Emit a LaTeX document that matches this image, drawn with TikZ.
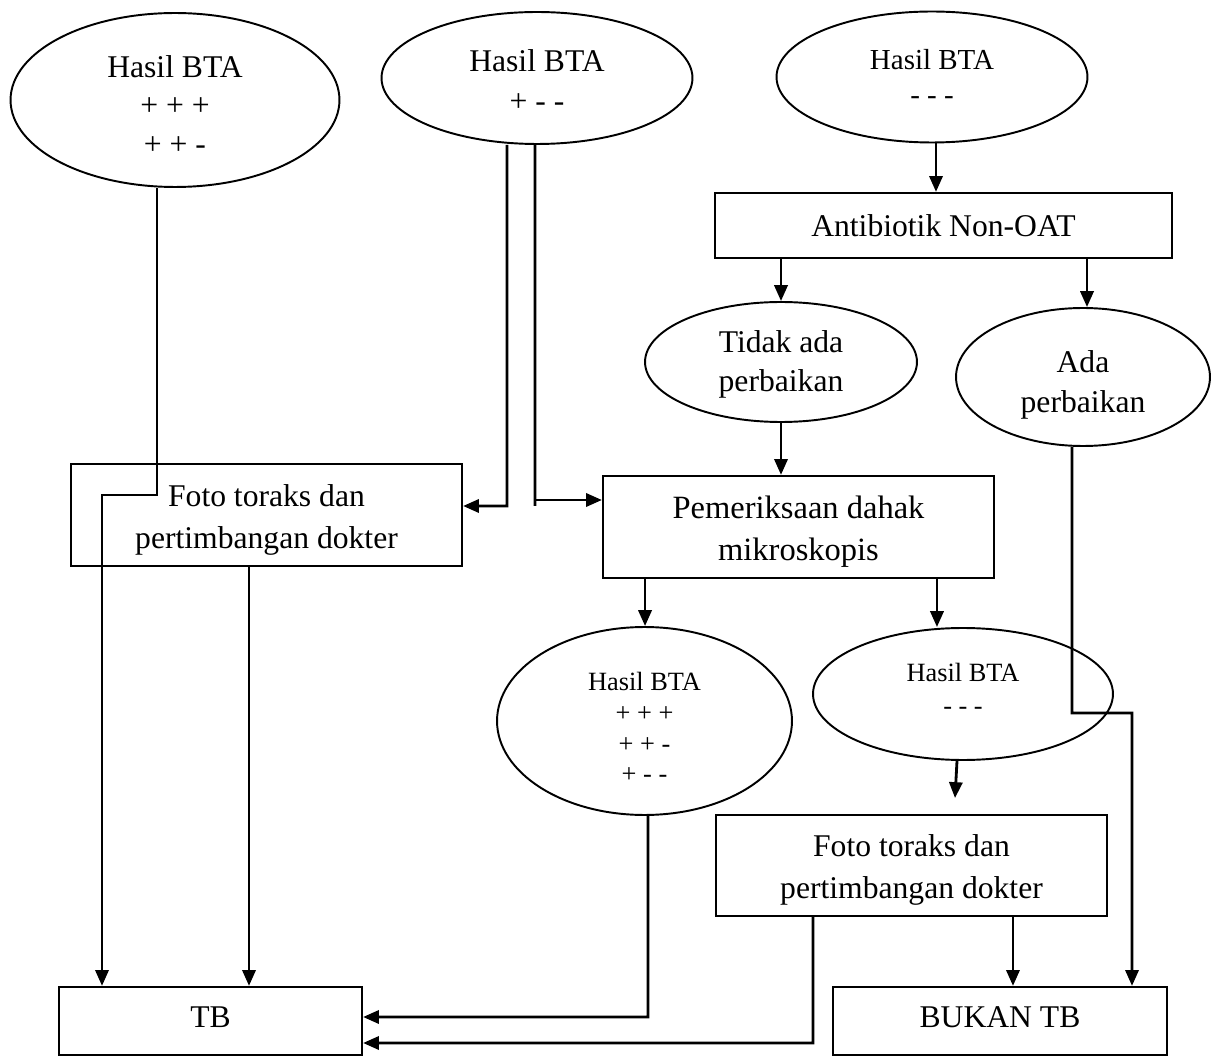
\documentclass[tikz,border=0pt]{standalone}
\usepackage{fontspec}
\setmainfont{Liberation Serif}
\usetikzlibrary{shapes.geometric,arrows.meta}
\newcommand{\myTop}[1]{\rule{0pt}{#1}}
\newcommand{\myBot}[1]{\rule[-#1]{0pt}{0pt}}
\begin{document}
\begin{tikzpicture}[x=0.02cm,y=-0.02cm,
  ell/.style={draw,line width=1.1pt,ellipse,inner sep=0pt,align=center,font=\fontsize{18}{21.5}\selectfont},
  bx/.style={draw,line width=1.3pt,rectangle,inner sep=0pt,align=center,font=\fontsize{18}{23.8}\selectfont},
  arr/.style={line width=1.6pt,-{Triangle[length=9pt,width=7.5pt]}},
  ln/.style={line width=1.6pt}]
\useasboundingbox (0,0) rectangle (1211,1057);
% ellipses
\node[ell,minimum width=6.58cm,minimum height=3.48cm,font=\fontsize{18}{22}\selectfont] (e1) at (175,100) {\myTop{18pt}Hasil BTA\\+ + +\\+ + -};
\node[ell,minimum width=6.22cm,minimum height=2.64cm,font=\fontsize{18}{22.5}\selectfont] (e2) at (537,78) {\myTop{15.5pt}Hasil BTA\\+ - -};
\node[ell,minimum width=6.22cm,minimum height=2.62cm,font=\fontsize{16.5}{20}\selectfont] (e3) at (932,77) {Hasil BTA\\- - -};
\node[ell,minimum width=5.44cm,minimum height=2.4cm,font=\fontsize{18}{22}\selectfont] (tidak) at (781,362) {\myTop{15.5pt}Tidak ada\\perbaikan};
\node[ell,minimum width=5.08cm,minimum height=2.76cm,font=\fontsize{18}{22.5}\selectfont] (ada) at (1083,377) {\myTop{21.5pt}Ada\\perbaikan};
\node[ell,minimum width=5.9cm,minimum height=3.76cm,font=\fontsize{15}{17.5}\selectfont] (e4) at (644.5,721) {\myTop{18pt}Hasil BTA\\+ + +\\+ + -\\+ - -};
\node[ell,minimum width=6.0cm,minimum height=2.64cm,font=\fontsize{15}{19}\selectfont] (e5) at (963,694) {Hasil BTA\\- - -\myBot{5.6pt}};
% boxes
\node[bx,minimum width=9.14cm,minimum height=1.3cm] (ab) at (943.5,225.5) {Antibiotik Non-OAT};
\node[bx,minimum width=7.82cm,minimum height=2.04cm] (fotoL) at (266.5,515) {\myTop{18pt}Foto toraks dan\\pertimbangan dokter};
\node[bx,minimum width=7.82cm,minimum height=2.04cm,font=\fontsize{18.5}{24}\selectfont] (pem) at (798.5,527) {\myTop{18.5pt}Pemeriksaan dahak\\mikroskopis};
\node[bx,minimum width=7.82cm,minimum height=2.02cm] (fotoR) at (911.5,865.5) {\myTop{18pt}Foto toraks dan\\pertimbangan dokter};
\node[bx,minimum width=6.06cm,minimum height=1.36cm] (tb) at (210.5,1021) {TB\myBot{4.5pt}};
\node[bx,minimum width=6.68cm,minimum height=1.36cm] (bukan) at (1000,1021) {BUKAN TB\myBot{4.5pt}};
% helper coordinates
\coordinate (b1) at (102,495);
\coordinate (b2) at (507,506);
\coordinate (b3) at (535,500);
\coordinate (b3e) at (535,506);
\coordinate (c5) at (955,798);
\coordinate (b4) at (1072,713);
\coordinate (b5) at (1132,713);
\coordinate (b6) at (648,1017);
\coordinate (b7) at (813,1043);
\coordinate (c6) at ([xshift=-0.35cm]fotoL.south);
\coordinate (c7) at ([xshift=-1.97cm]fotoR.south);
\coordinate (c8) at ([xshift=2.03cm]fotoR.south);
\coordinate (c9) at ([xshift=2.77cm]pem.south);
\coordinate (c10) at ([xshift=-3.07cm]pem.south);
% connectors
\draw[arr] ([xshift=-0.36cm]e1.south) |- (b1) -- (b1 |- tb.north);
\draw[arr] ([xshift=-0.6cm]e2.south) -- (b2) -- (b2 -| fotoL.east);
\draw[ln] ([xshift=-0.04cm]e2.south) -- (b3e);
\draw[arr] (b3) -- (b3 -| pem.west);
\draw[arr] ([xshift=0.08cm]e3.south) -- ([xshift=0.08cm]e3.south |- ab.north);
\draw[arr] (ab.south -| tidak) -- (tidak.north);
\draw[arr] ([xshift=0.08cm]ab.south -| ada) -- ([xshift=0.08cm]ada.north);
\draw[arr] (tidak.south) -- (tidak.south |- pem.north);
\draw[arr] (c10) -- (c10 |- e4.north);
\draw[arr] (c9) -- (c9 |- e5.north);
\draw[arr] ([xshift=-0.12cm]e5.south) -- (c5);
\draw[arr] ([xshift=-0.22cm]ada.south) -- (b4) -- (b5) -- (b5 |- bukan.north);
\draw[arr] (c6) -- (c6 |- tb.north);
\draw[arr] ([xshift=0.07cm]e4.south) -- (b6) -- (b6 -| tb.east);
\draw[arr] (c7) -- (b7) -- (b7 -| tb.east);
\draw[arr] (c8) -- (c8 |- bukan.north);
\end{tikzpicture}
\end{document}
